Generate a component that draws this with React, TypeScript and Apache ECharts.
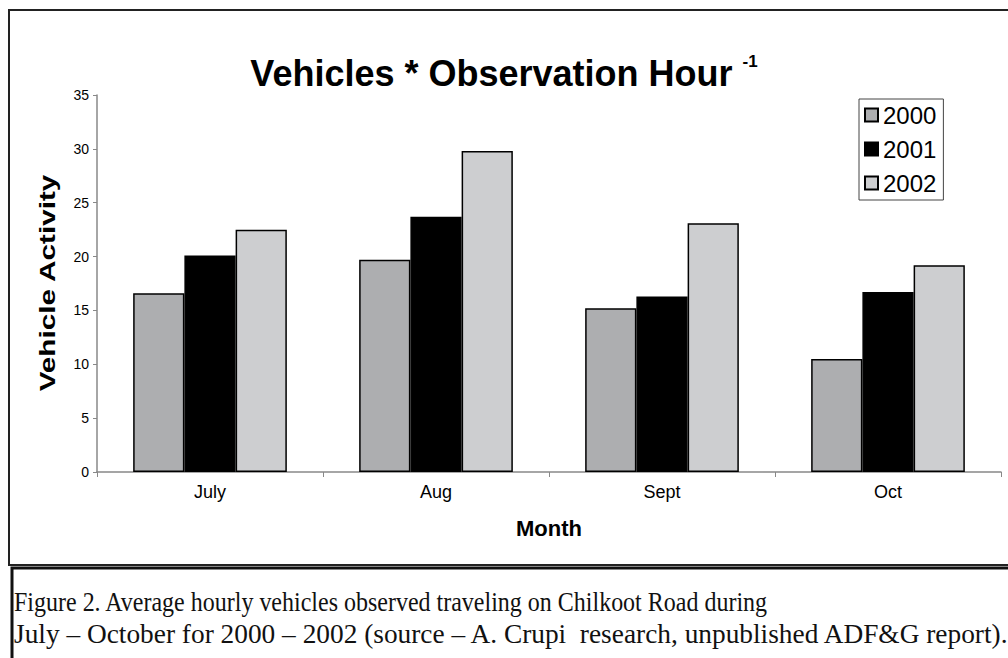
import React, { useEffect, useRef } from "react";
import * as echarts from "echarts";

const months = ["July", "Aug", "Sept", "Oct"];
const seriesNames = ["2000", "2001", "2002"];
const values2000 = [16.6, 19.7, 15.2, 10.5];
const values2001 = [20.1, 23.7, 16.3, 16.7];
const values2002 = [22.5, 29.8, 23.1, 19.2];
const barColors = ["#ADAEB0", "#000000", "#CDCED0"];
const captionLines = [
  "Figure 2. Average hourly vehicles observed traveling on Chilkoot Road during",
  "July \u2013 October for 2000 \u2013 2002 (source \u2013 A. Crupi  research, unpublished ADF&G report).",
];

const SANS = "'Liberation Sans', Arial, sans-serif";
const SERIF = "'Liberation Serif', 'Times New Roman', serif";

export default function App() {
  const ref = useRef<HTMLDivElement>(null);
  useEffect(() => {
    if (!ref.current) return;
    const chart = echarts.init(ref.current, null, { renderer: "svg" });
    const data = [values2000, values2001, values2002];
    chart.setOption({
      animation: false,
      backgroundColor: "#ffffff",
      textStyle: { fontFamily: SANS },
      title: {
        text: "{a|Vehicles * Observation Hour }{b|-1}",
        left: "center",
        top: 48,
        textStyle: {
          rich: {
            a: { fontSize: 36, fontWeight: "bold", color: "#000", fontFamily: SANS, lineHeight: 40 },
            b: { fontSize: 17, fontWeight: "bold", color: "#000", fontFamily: SANS, verticalAlign: "top", lineHeight: 22 },
          },
        },
      },
      legend: {
        orient: "vertical",
        left: 859,
        top: 99,
        padding: [4, 7, 5, 5],
        itemGap: 10,
        itemWidth: 13,
        itemHeight: 13,
        borderColor: "#444",
        borderWidth: 1,
        icon: "rect",
        data: seriesNames,
        textStyle: { fontSize: 24, color: "#000", fontFamily: SANS },
      },
      grid: { left: 97, right: 7, top: 95, bottom: 186 },
      xAxis: {
        type: "category",
        data: months,
        name: "Month",
        nameLocation: "middle",
        nameGap: 45,
        nameTextStyle: { fontSize: 22, fontWeight: "bold", color: "#000", fontFamily: SANS },
        axisLine: { lineStyle: { color: "#888", width: 1.5 } },
        axisTick: { show: true, length: 5, lineStyle: { color: "#888" } },
        axisLabel: { fontSize: 18, color: "#000", margin: 11, fontFamily: SANS },
      },
      yAxis: {
        type: "value",
        min: 0,
        max: 35,
        interval: 5,
        axisLine: { show: true, lineStyle: { color: "#888", width: 1.5 } },
        axisTick: { show: true, length: 4, lineStyle: { color: "#888" } },
        axisLabel: { fontSize: 14, color: "#000", margin: 8, fontFamily: SANS },
        splitLine: { show: false },
      },
      series: seriesNames.map((name, i) => ({
        name,
        type: "bar",
        data: data[i],
        barGap: "0%",
        barCategoryGap: "32%",
        itemStyle: { color: barColors[i], borderColor: "#000", borderWidth: 1.5 },
      })),
      graphic: [
        {
          type: "rect",
          shape: { x: 9, y: 10, width: 1010, height: 555 },
          style: { fill: "none", stroke: "#222", lineWidth: 2 },
          silent: true,
        },
        {
          type: "rect",
          shape: { x: 12, y: 568, width: 1010, height: 120 },
          style: { fill: "none", stroke: "#111", lineWidth: 3 },
          silent: true,
        },
        {
          type: "text",
          x: 47,
          y: 283,
          rotation: Math.PI / 2,
          scaleX: 1.35,
          style: {
            text: "Vehicle Activity",
            fontSize: 22,
            fontWeight: "bold",
            fontFamily: SANS,
            fill: "#000",
            align: "center",
            verticalAlign: "middle",
          },
        },
        {
          type: "text",
          x: 14,
          y: 602,
          scaleY: 1.12,
          style: {
            text: captionLines[0],
            fontSize: 24,
            fontFamily: SERIF,
            fill: "#111",
            verticalAlign: "middle",
          },
        },
        {
          type: "text",
          x: 14,
          y: 634,
          scaleX: 1.14,
          scaleY: 1.12,
          style: {
            text: captionLines[1],
            fontSize: 24,
            fontFamily: SERIF,
            fill: "#111",
            verticalAlign: "middle",
          },
        },
      ],
    });
    return () => chart.dispose();
  }, []);
  return <div ref={ref} style={{ position: "fixed", left: 0, top: 0, width: 1008, height: 658 }} />;
}
